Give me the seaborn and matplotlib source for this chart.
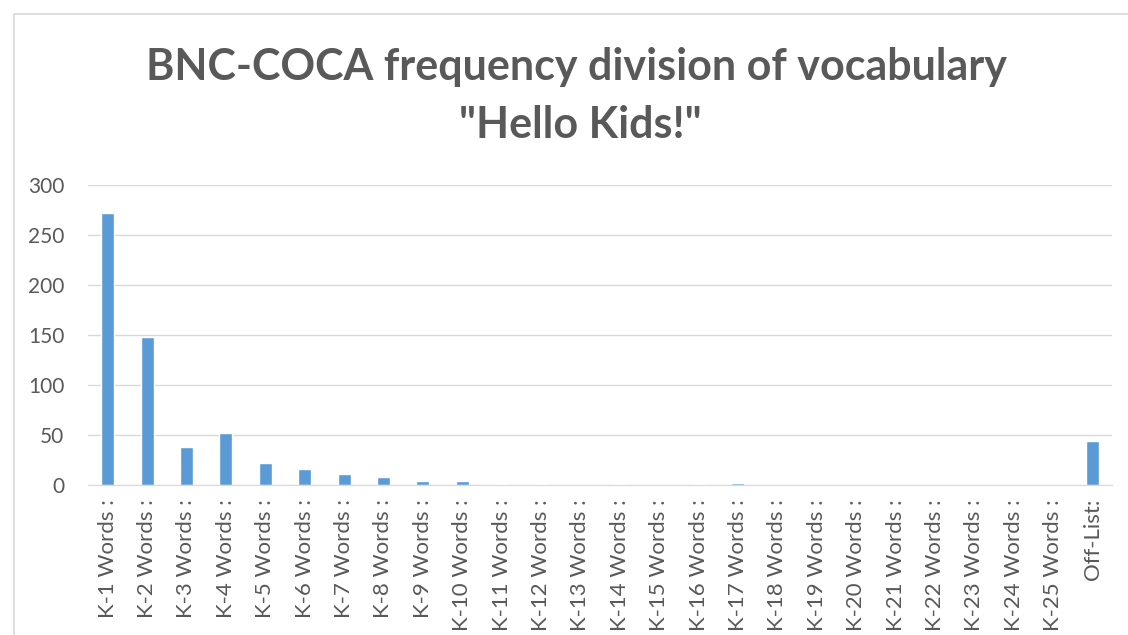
import matplotlib
matplotlib.use("Agg")
import matplotlib.pyplot as plt
import seaborn as sns
import pandas as pd
from matplotlib.patches import Rectangle

# ── DATOS ──────────────────────────────────────────────
categorias = [f"K-{i} Words :" for i in range(1, 26)] + ["Off-List:"]
valores = [272, 148, 38, 52, 22, 16, 11, 8, 4, 4,
           1, 1, 0, 1, 0, 1, 2, 0, 0, 0,
           0, 0, 0, 0, 0, 44]
titulo_1 = "BNC-COCA frequency division of vocabulary"
titulo_2 = '"Hello Kids!"'

df = pd.DataFrame({"categoria": categorias, "valor": valores})

# ── ESTILO ─────────────────────────────────────────────
sns.set_style("white")
plt.rcParams["font.family"] = ["Lato", "DejaVu Sans"]
gris = "#595959"

fig = plt.figure(figsize=(11.28, 6.35), dpi=100)
ax = fig.add_axes([0.078, 0.236, 0.908, 0.473])

sns.barplot(data=df, x="categoria", y="valor", color="#5B9BD5",
            width=0.33, saturation=1, ax=ax)

ax.set_ylim(0, 300)
ax.set_yticks(range(0, 301, 50))
ax.yaxis.grid(True, color="#D9D9D9", linewidth=1)
ax.set_axisbelow(True)
for s in ["top", "right", "left"]:
    ax.spines[s].set_visible(False)
ax.spines["bottom"].set_color("#D9D9D9")
ax.set_xlabel("")
ax.set_ylabel("")
ax.set_xlim(-0.5, len(categorias) - 0.5)
ax.tick_params(axis="both", length=0, labelcolor=gris)
ax.tick_params(axis="y", labelsize=15, pad=17)
ax.tick_params(axis="x", labelsize=16, pad=10)
plt.setp(ax.get_xticklabels(), rotation=90)

# título en dos líneas
fig.text(576 / 1128, 1 - 80 / 635, titulo_1, ha="center", va="baseline",
         fontsize=31, fontweight="bold", color=gris)
fig.text(580 / 1128, 1 - 138 / 635, titulo_2, ha="center", va="baseline",
         fontsize=31, fontweight="bold", color=gris)

# marco del gráfico
fig.patches.append(Rectangle((14 / 1128, -0.01), 1.0, 1 - 14 / 635 + 0.01,
                             transform=fig.transFigure, fill=False,
                             edgecolor="#D9D9D9", linewidth=1.2))

plt.savefig("out.png", dpi=100)
